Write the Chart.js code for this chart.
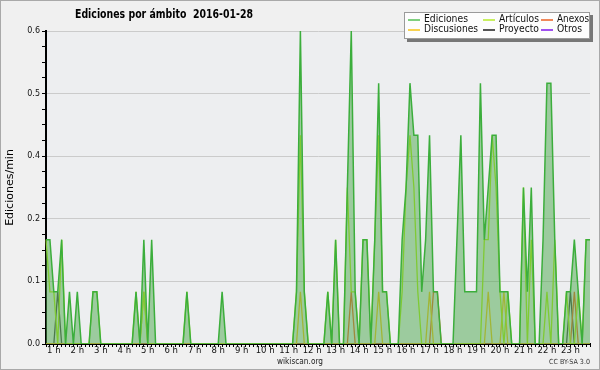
<!DOCTYPE html>
<html>
<head>
<meta charset="utf-8">
<script src="https://cdn.jsdelivr.net/npm/chart.js@4.4.1/dist/chart.umd.min.js"></script>
<style>
  body { margin: 0; background: #f0f0f0; }
  #wrap { position: relative; width: 600px; height: 370px; overflow: hidden; }
  #frame { position: absolute; left: 0; top: 0; width: 600px; height: 370px; box-sizing: border-box; border: 1px solid #a9a9a9; pointer-events: none; }
  .txt { position: absolute; white-space: nowrap; line-height: 1; transform-origin: 0 0; font-family: 'DejaVu Sans'; color: #000; }
  #title { left: 75px; top: 7px; font-size: 13px; font-weight: bold; }
  #site { left: 277px; top: 357px; font-size: 9px; color: #222; }
  #licence { left: 549px; top: 359px; font-size: 7px; color: #333; }
  #legend { position: absolute; left: 404px; top: 12px; width: 186px; height: 27px; box-sizing: border-box; background: #fdfdfd; border: 1px solid #9a9a9a; box-shadow: 3px 3px 0 #777; }
  .key { position: absolute; height: 1.5px; width: 12px; }
  .name { font-size: 10px; color: #111; }
</style>
</head>
<body>
<div id="wrap">
  <canvas id="myChart" width="600" height="370"></canvas>
  <div class="txt" id="title">Ediciones por ámbito&nbsp;&nbsp;2016-01-28</div>
  <div id="legend"></div>
  <div class="txt" id="site">wikiscan.org</div>
  <div class="txt" id="licence">CC BY-SA 3.0</div>
  <div id="frame"></div>
</div>
<script>
'use strict';

// 10 minute bins, first one at 0:40
let firstBin = 40;
let binSize = 10;

let hourLabels = ['1 h', '2 h', '3 h', '4 h', '5 h', '6 h', '7 h', '8 h', '9 h', '10 h', '11 h', '12 h',
  '13 h', '14 h', '15 h', '16 h', '17 h', '18 h', '19 h', '20 h', '21 h', '22 h', '23 h'];

let yTicks = [0, 0.12, 0.24, 0.36, 0.48, 0.6];

let seriesNames = ['Ediciones', 'Artículos', 'Anexos', 'Discusiones', 'Proyecto', 'Otros'];
let seriesColors = ['#3cae3c', '#b2ec1c', '#f06a2c', '#f5c422', '#4a4a4a', '#9a44e6'];
let legendColors = ['#7fcf7f', '#c8f060', '#f0885a', '#f8d250', '#555555', '#a050f0'];

// edits / min
let ediciones = [
  0.2, 0.2, 0.1, 0.1, 0.2, 0, 0.1, 0, 0.1, 0,
  0, 0, 0.1, 0.1, 0, 0, 0, 0, 0, 0,
  0, 0, 0, 0.1, 0, 0.2, 0, 0.2, 0, 0,
  0, 0, 0, 0, 0, 0, 0.1, 0, 0, 0,
  0, 0, 0, 0, 0, 0.1, 0, 0, 0, 0,
  0, 0, 0, 0, 0, 0, 0, 0, 0, 0,
  0, 0, 0, 0, 0.1, 0.6, 0.1, 0, 0, 0,
  0, 0, 0.1, 0, 0.2, 0, 0, 0.3, 0.6, 0.1,
  0, 0.2, 0.2, 0, 0.2, 0.5, 0.1, 0.1, 0, 0,
  0, 0.2, 0.3, 0.5, 0.4, 0.4, 0.1, 0.2, 0.4, 0.1,
  0.1, 0, 0, 0, 0, 0.2, 0.4, 0.1, 0.1, 0.1,
  0.1, 0.5, 0.2, 0.3, 0.4, 0.4, 0.1, 0.1, 0.1, 0,
  0, 0, 0.3, 0.1, 0.3, 0, 0, 0.2, 0.5, 0.5,
  0.2, 0, 0, 0.1, 0.1, 0.2, 0.1, 0, 0.2, 0.2
];

let articulos = [
  0.2, 0.1, 0.1, 0, 0.2, 0, 0, 0, 0, 0,
  0, 0, 0.1, 0.1, 0, 0, 0, 0, 0, 0,
  0, 0, 0, 0.1, 0, 0.1, 0, 0, 0, 0,
  0, 0, 0, 0, 0, 0, 0.1, 0, 0, 0,
  0, 0, 0, 0, 0, 0, 0, 0, 0, 0,
  0, 0, 0, 0, 0, 0, 0, 0, 0, 0,
  0, 0, 0, 0, 0.1, 0.4, 0.1, 0, 0, 0,
  0, 0, 0.1, 0, 0.2, 0, 0, 0.3, 0.1, 0.1,
  0, 0.2, 0.2, 0, 0.2, 0.4, 0.1, 0.1, 0, 0,
  0, 0.1, 0.3, 0.4, 0.3, 0.1, 0, 0, 0, 0,
  0, 0, 0, 0, 0, 0, 0, 0, 0, 0,
  0, 0, 0.2, 0.2, 0.4, 0.3, 0.1, 0, 0.1, 0,
  0, 0, 0.3, 0, 0.2, 0, 0, 0, 0.1, 0,
  0.2, 0, 0, 0.1, 0, 0, 0.1, 0, 0.2, 0.2
];

let anexos = [
  0, 0, 0, 0, 0, 0, 0, 0, 0, 0,
  0, 0, 0, 0, 0, 0, 0, 0, 0, 0,
  0, 0, 0, 0, 0, 0, 0, 0, 0, 0,
  0, 0, 0, 0, 0, 0, 0, 0, 0, 0,
  0, 0, 0, 0, 0, 0, 0, 0, 0, 0,
  0, 0, 0, 0, 0, 0, 0, 0, 0, 0,
  0, 0, 0, 0, 0, 0, 0, 0, 0, 0,
  0, 0, 0, 0, 0, 0, 0, 0, 0.1, 0,
  0, 0, 0, 0, 0, 0, 0, 0, 0, 0,
  0, 0, 0, 0, 0, 0, 0, 0, 0, 0.1,
  0.1, 0, 0, 0, 0, 0, 0, 0, 0, 0,
  0, 0, 0, 0, 0, 0, 0, 0, 0, 0,
  0, 0, 0, 0, 0, 0, 0, 0, 0, 0,
  0, 0, 0, 0, 0, 0.1, 0, 0, 0, 0
];

let discusiones = [
  0, 0, 0, 0, 0, 0, 0, 0, 0, 0,
  0, 0, 0, 0, 0, 0, 0, 0, 0, 0,
  0, 0, 0, 0, 0, 0.1, 0, 0, 0, 0,
  0, 0, 0, 0, 0, 0, 0, 0, 0, 0,
  0, 0, 0, 0, 0, 0, 0, 0, 0, 0,
  0, 0, 0, 0, 0, 0, 0, 0, 0, 0,
  0, 0, 0, 0, 0, 0.1, 0, 0, 0, 0,
  0, 0, 0, 0, 0, 0, 0, 0, 0, 0,
  0, 0, 0, 0, 0, 0.1, 0, 0, 0, 0,
  0, 0, 0, 0, 0, 0, 0, 0, 0.1, 0,
  0, 0, 0, 0, 0, 0, 0, 0, 0, 0,
  0, 0, 0, 0.1, 0, 0, 0, 0.1, 0, 0,
  0, 0, 0, 0, 0, 0, 0, 0, 0, 0,
  0, 0, 0, 0, 0, 0, 0, 0, 0, 0
];

let proyecto = [
  0, 0, 0, 0.1, 0, 0, 0, 0, 0, 0,
  0, 0, 0, 0, 0, 0, 0, 0, 0, 0,
  0, 0, 0, 0, 0, 0, 0, 0, 0, 0,
  0, 0, 0, 0, 0, 0, 0, 0, 0, 0,
  0, 0, 0, 0, 0, 0, 0, 0, 0, 0,
  0, 0, 0, 0, 0, 0, 0, 0, 0, 0,
  0, 0, 0, 0, 0, 0, 0, 0, 0, 0,
  0, 0, 0, 0, 0, 0, 0, 0, 0, 0,
  0, 0, 0, 0, 0, 0, 0, 0, 0, 0,
  0, 0, 0, 0, 0, 0, 0, 0, 0, 0,
  0, 0, 0, 0, 0, 0, 0, 0, 0, 0,
  0, 0, 0, 0, 0, 0, 0, 0, 0, 0,
  0, 0, 0, 0, 0, 0, 0, 0, 0, 0,
  0, 0, 0, 0, 0.1, 0, 0, 0, 0, 0
];

let otros = [];

let minutes = [];
for (let i = 0; i < ediciones.length; i++) {
  minutes.push(firstBin + i * binSize);
}

function fitText(el, width) {
  let w = el.getBoundingClientRect().width;
  el.style.transform = 'scaleX(' + (width / w) + ')';
}

// legend box, 3 columns x 2 rows
let legend = document.getElementById('legend');
let legendOrder = [0, 1, 2, 3, 4, 5];
let colX = [3, 78, 136];
let textWidth = [44, 40, 32, 54, 40, 25];
for (let i = 0; i < legendOrder.length; i++) {
  let s = legendOrder[i];
  let col = i % 3;
  let row = Math.floor(i / 3);
  let key = document.createElement('div');
  key.className = 'key';
  key.style.left = colX[col] + 'px';
  key.style.top = (6 + row * 10) + 'px';
  key.style.background = legendColors[s];
  legend.appendChild(key);
  let name = document.createElement('div');
  name.className = 'txt name';
  name.textContent = seriesNames[s];
  name.style.left = (colX[col] + 16) + 'px';
  name.style.top = (1 + row * 10) + 'px';
  legend.appendChild(name);
  fitText(name, textWidth[s]);
}
fitText(document.getElementById('title'), 178);
fitText(document.getElementById('site'), 46);
fitText(document.getElementById('licence'), 41);

let plotBackground = {
  id: 'plotBackground',
  beforeDraw(chart) {
    let a = chart.chartArea;
    let c = chart.ctx;
    c.save();
    c.fillStyle = '#edeef0';
    c.fillRect(a.left, a.top, a.right - a.left, a.bottom - a.top);
    c.restore();
  }
};

function isMajor(v) {
  return yTicks.some(t => Math.abs(t - v) < 0.001);
}

let datasets = [
  { label: seriesNames[0], data: ediciones, borderColor: seriesColors[0], backgroundColor: 'rgba(76, 168, 76, 0.5)', fill: 'origin', borderWidth: 1.5 },
  { label: seriesNames[1], data: articulos, borderColor: seriesColors[1], fill: false },
  { label: seriesNames[3], data: discusiones, borderColor: seriesColors[3], fill: false },
  { label: seriesNames[2], data: anexos, borderColor: seriesColors[2], fill: false },
  { label: seriesNames[4], data: proyecto, borderColor: seriesColors[4], fill: false },
  { label: seriesNames[5], data: otros, borderColor: seriesColors[5], fill: false }
];

let ctx = document.getElementById('myChart').getContext('2d');

new Chart(ctx, {
  type: 'line',
  data: {
    labels: minutes,
    datasets: datasets
  },
  plugins: [plotBackground],
  options: {
    responsive: false,
    animation: false,
    layout: { padding: { top: 31, right: 10, bottom: 0, left: 0 } },
    elements: {
      point: { radius: 0 },
      line: { tension: 0, borderWidth: 1.3 }
    },
    plugins: {
      legend: { display: false },
      tooltip: { enabled: false }
    },
    scales: {
      x: {
        z: 1,
        grid: { drawOnChartArea: false, color: '#000', tickLength: 3 },
        border: { color: '#000', width: 2 },
        ticks: {
          autoSkip: false,
          maxRotation: 0,
          minRotation: 0,
          padding: -1,
          color: '#111',
          font: { family: 'DejaVu Sans', size: 8.5 },
          callback: function (value, index) {
            let m = minutes[index];
            if (m % 60 === 0) {
              return hourLabels[m / 60 - 1];
            }
            return '';
          }
        },
        afterFit: function (scale) { scale.height = 26; }
      },
      y: {
        min: 0,
        max: 0.6,
        grid: {
          color: c => (isMajor(c.tick.value) && c.tick.value > 0) ? '#cbcbcb' : 'rgba(0,0,0,0)',
          tickColor: '#000',
          tickLength: 4
        },
        border: { color: '#000', width: 2 },
        ticks: {
          stepSize: 0.03,
          padding: 2,
          color: '#111',
          font: { family: 'DejaVu Sans', size: 8 },
          callback: function (value) {
            return isMajor(value) ? value.toFixed(1) : '';
          }
        },
        title: {
          display: true,
          text: 'Ediciones/min',
          color: '#000',
          font: { family: 'DejaVu Sans', size: 11 },
          padding: { top: 4, bottom: 0 }
        },
        afterFit: function (scale) { scale.width = 46; }
      }
    }
  }
});
</script>
</body>
</html>
